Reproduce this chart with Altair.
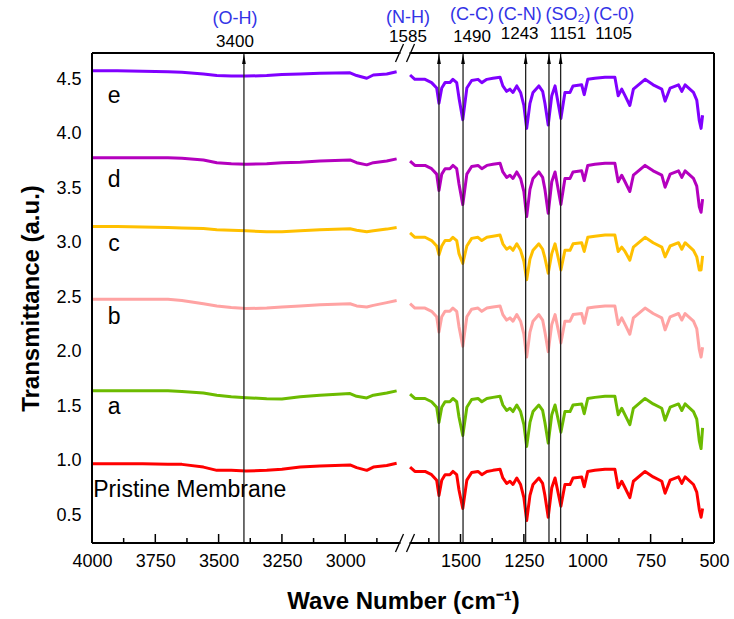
import altair as alt
import pandas as pd

# ---------------- data ----------------
SERIES = ["Pristine Membrane", "a", "b", "c", "d", "e"]
COLORS = ["#FF0000", "#6CBB00", "#FFA3A3", "#FFC000", "#B400BE", "#8000FF"]

LEFT_WN = [4000, 3900, 3800, 3700, 3645, 3560, 3507, 3450, 3392, 3310,
           3250, 3178, 3100, 2981, 2955, 2915, 2889, 2836, 2797]

RIGHT_WN = [1699, 1680, 1640, 1614, 1594, 1585, 1574, 1561, 1542, 1530,
            1515, 1506, 1491, 1475, 1456, 1431, 1416, 1396, 1372, 1344,
            1333, 1318, 1305, 1293, 1278, 1263, 1250, 1239, 1226, 1214,
            1191, 1176, 1167, 1154, 1140, 1127, 1104, 1088, 1068, 1056,
            1022, 1012, 998, 970, 930, 891, 878, 864, 851, 832,
            818, 772, 740, 706, 693, 673, 640, 627, 614, 581,
            568, 558, 551, 545]

P_LEFT = [0.97, 0.97, 0.97, 0.965, 0.965, 0.94, 0.91, 0.91, 0.905, 0.91,
          0.92, 0.94, 0.95, 0.96, 0.935, 0.91, 0.94, 0.955, 0.975]
P_RIGHT = [0.94, 0.90, 0.90, 0.87, 0.82, 0.68, 0.82, 0.87, 0.87, 0.90,
           0.87, 0.73, 0.56, 0.82, 0.89, 0.90, 0.87, 0.90, 0.91, 0.92,
           0.84, 0.79, 0.81, 0.78, 0.84, 0.78, 0.66, 0.45, 0.68, 0.78,
           0.84, 0.79, 0.68, 0.48, 0.75, 0.84, 0.58, 0.78, 0.78, 0.84,
           0.85, 0.76, 0.90, 0.91, 0.92, 0.92, 0.75, 0.81, 0.75, 0.66,
           0.81, 0.90, 0.85, 0.81, 0.70, 0.82, 0.85, 0.79, 0.85, 0.78,
           0.71, 0.55, 0.48, 0.56]

A_LEFT = [1.64, 1.64, 1.64, 1.64, 1.635, 1.62, 1.60, 1.585, 1.577, 1.568,
          1.565, 1.585, 1.60, 1.615, 1.59, 1.575, 1.60, 1.62, 1.64]
A_RIGHT = [1.61, 1.57, 1.57, 1.54, 1.49, 1.35, 1.49, 1.54, 1.54, 1.57,
           1.54, 1.40, 1.23, 1.49, 1.56, 1.57, 1.54, 1.57, 1.58, 1.59,
           1.51, 1.46, 1.48, 1.45, 1.51, 1.45, 1.33, 1.13, 1.35, 1.45,
           1.51, 1.46, 1.35, 1.16, 1.42, 1.51, 1.26, 1.45, 1.45, 1.51,
           1.52, 1.43, 1.57, 1.58, 1.59, 1.59, 1.42, 1.48, 1.42, 1.33,
           1.48, 1.57, 1.52, 1.48, 1.37, 1.49, 1.52, 1.46, 1.52, 1.45,
           1.38, 1.18, 1.11, 1.30]

B_LEFT = [2.48, 2.48, 2.48, 2.48, 2.47, 2.44, 2.42, 2.405, 2.395, 2.40,
          2.41, 2.42, 2.43, 2.44, 2.42, 2.41, 2.425, 2.45, 2.47]
B_RIGHT = [2.44, 2.40, 2.40, 2.37, 2.32, 2.18, 2.32, 2.37, 2.37, 2.40,
           2.37, 2.23, 2.05, 2.32, 2.39, 2.40, 2.37, 2.40, 2.41, 2.42,
           2.34, 2.29, 2.31, 2.28, 2.34, 2.28, 2.16, 1.95, 2.18, 2.28,
           2.34, 2.29, 2.18, 2.00, 2.25, 2.34, 2.08, 2.28, 2.28, 2.34,
           2.35, 2.26, 2.40, 2.41, 2.42, 2.42, 2.25, 2.31, 2.25, 2.16,
           2.31, 2.40, 2.35, 2.31, 2.20, 2.32, 2.35, 2.29, 2.35, 2.28,
           2.21, 2.02, 1.95, 2.04]

C_LEFT = [3.15, 3.15, 3.145, 3.14, 3.135, 3.13, 3.12, 3.115, 3.11, 3.10,
          3.10, 3.11, 3.12, 3.128, 3.115, 3.10, 3.11, 3.125, 3.14]
C_RIGHT = [3.09, 3.05, 3.05, 3.02, 2.97, 2.89, 2.97, 3.02, 3.02, 3.05,
           3.02, 2.90, 2.81, 2.97, 3.04, 3.05, 3.02, 3.05, 3.06, 3.07,
           2.99, 2.94, 2.96, 2.93, 2.99, 2.93, 2.83, 2.66, 2.85, 2.93,
           2.99, 2.94, 2.86, 2.72, 2.90, 2.99, 2.75, 2.93, 2.93, 2.99,
           3.00, 2.92, 3.05, 3.06, 3.07, 3.07, 2.92, 2.96, 2.92, 2.84,
           2.96, 3.05, 3.00, 2.96, 2.87, 2.97, 3.00, 2.94, 3.00, 2.93,
           2.87, 2.75, 2.75, 2.88]

D_LEFT = [3.78, 3.78, 3.78, 3.78, 3.775, 3.76, 3.735, 3.725, 3.72, 3.725,
          3.735, 3.74, 3.75, 3.76, 3.735, 3.715, 3.735, 3.75, 3.77]
D_RIGHT = [3.75, 3.71, 3.71, 3.68, 3.63, 3.48, 3.63, 3.68, 3.68, 3.71,
           3.68, 3.54, 3.35, 3.63, 3.70, 3.71, 3.68, 3.71, 3.72, 3.73,
           3.65, 3.60, 3.62, 3.59, 3.65, 3.59, 3.47, 3.24, 3.49, 3.59,
           3.65, 3.60, 3.49, 3.27, 3.56, 3.65, 3.35, 3.59, 3.59, 3.65,
           3.66, 3.57, 3.71, 3.72, 3.73, 3.73, 3.56, 3.62, 3.56, 3.47,
           3.62, 3.71, 3.66, 3.62, 3.51, 3.63, 3.66, 3.60, 3.66, 3.59,
           3.52, 3.33, 3.28, 3.40]

E_LEFT = [4.58, 4.58, 4.575, 4.57, 4.565, 4.55, 4.535, 4.53, 4.53, 4.535,
          4.545, 4.55, 4.555, 4.56, 4.535, 4.51, 4.54, 4.55, 4.57]
E_RIGHT = [4.54, 4.50, 4.50, 4.47, 4.42, 4.28, 4.42, 4.47, 4.47, 4.50,
           4.47, 4.33, 4.13, 4.42, 4.49, 4.50, 4.47, 4.50, 4.51, 4.52,
           4.44, 4.39, 4.41, 4.38, 4.44, 4.38, 4.26, 4.05, 4.28, 4.38,
           4.44, 4.39, 4.28, 4.08, 4.35, 4.44, 4.14, 4.38, 4.38, 4.44,
           4.45, 4.36, 4.50, 4.51, 4.52, 4.52, 4.35, 4.41, 4.35, 4.26,
           4.41, 4.50, 4.45, 4.41, 4.30, 4.42, 4.45, 4.39, 4.45, 4.38,
           4.31, 4.12, 4.05, 4.17]

LEFTS = [P_LEFT, A_LEFT, B_LEFT, C_LEFT, D_LEFT, E_LEFT]
RIGHTS = [P_RIGHT, A_RIGHT, B_RIGHT, C_RIGHT, D_RIGHT, E_RIGHT]

# series labels drawn inside the plot
LETTERS = ["e", "d", "c", "b", "a"]
LETTER_Y = [4.28, 3.508, 2.926, 2.253, 1.424]
LETTER_WN = 3913
PRISTINE_Y = 0.667
PRISTINE_WN = 3995

# marked absorption bands
PEAK_WN = [3400, 1585, 1490, 1243, 1151, 1105]
PEAK_GROUP = ["(O-H)", "(N-H)", "(C-C)", "(C-N)", "(SO\u2082)", "(C-0)"]
PEAK_TEXT = ["3400", "1585", "1490", "1243", "1151", "1105"]

MAJOR_TICKS = [4000, 3750, 3500, 3250, 3000, 1500, 1250, 1000, 750, 500]
MINOR_TICKS = [3875, 3625, 3375, 3125, 2875, 1625, 1375, 1125, 875, 625]
Y_TICKS = [0.5, 1.0, 1.5, 2.0, 2.5, 3.0, 3.5, 4.0, 4.5]

# axis break (wavenumbers removed from the axis)
BREAK_HI = 2762
BREAK_LO = 1717
BREAK_MID = 2200

# ---------------- build tables ----------------
rows = []
for name, left, right in zip(SERIES, LEFTS, RIGHTS):
    for w, v in zip(LEFT_WN, left):
        rows.append({"series": name, "seg": "L", "wn": w, "T": v})
    for w, v in zip(RIGHT_WN, right):
        rows.append({"series": name, "seg": "R", "wn": w, "T": v})
df = pd.DataFrame(rows)

W, H = 622, 490
FONT = "Liberation Sans"

x_scale = alt.Scale(domain=[4000, BREAK_HI, BREAK_LO, 500],
                    range=[0, 313.5, 313.5, W], nice=False, zero=False)
y_scale = alt.Scale(domain=[0.243, 4.742], nice=False, zero=False)

X_AXIS = alt.Axis(values=MAJOR_TICKS, format="d", title="Wave Number (cm\u207b\u00b9)",
                  labelFlush=False, labelPadding=9, titlePadding=19,
                  labelOverlap=False)
Y_AXIS = alt.Axis(values=Y_TICKS, format=".1f", title="Transmittance (a.u.)",
                  labelPadding=11, titlePadding=12)


def xenc():
    return alt.X("wn:Q", scale=x_scale, axis=X_AXIS)


def yenc():
    return alt.Y("T:Q", scale=y_scale, axis=Y_AXIS)


lines = alt.Chart(df).mark_line(strokeWidth=3, strokeJoin="round").encode(
    x=xenc(), y=yenc(),
    color=alt.Color("series:N", scale=alt.Scale(domain=SERIES, range=COLORS), legend=None),
    detail="seg:N",
)

peaks_df = pd.DataFrame({"wn": PEAK_WN})
peak_rules = alt.Chart(peaks_df).mark_rule(color="#222222", strokeWidth=1.3).encode(
    x=xenc(), y=alt.value(0), y2=alt.value(H),
)
arrows = alt.Chart(peaks_df).mark_point(
    shape="M0,-1L0.38,1L-0.38,1Z", filled=True, size=100, color="black", opacity=1
).encode(x=xenc(), y=alt.value(6))

major_df = pd.DataFrame({"wn": MAJOR_TICKS})
minor_df = pd.DataFrame({"wn": MINOR_TICKS})
major_ticks = alt.Chart(major_df).mark_rule(color="black", strokeWidth=1.5).encode(
    x=xenc(), y=alt.value(H - 9), y2=alt.value(H))
minor_ticks = alt.Chart(minor_df).mark_rule(color="black", strokeWidth=1.5).encode(
    x=xenc(), y=alt.value(H - 5), y2=alt.value(H))

one = pd.DataFrame({"k": [0]})
frame = [
    alt.Chart(one).mark_rule(color="black", strokeWidth=2).encode(
        x=alt.value(0), x2=alt.value(W), y=alt.value(0)),
    alt.Chart(one).mark_rule(color="black", strokeWidth=2).encode(
        x=alt.value(0), x2=alt.value(W), y=alt.value(H)),
    alt.Chart(one).mark_rule(color="black", strokeWidth=2).encode(
        x=alt.value(0), y=alt.value(0), y2=alt.value(H)),
    alt.Chart(one).mark_rule(color="black", strokeWidth=2).encode(
        x=alt.value(W), y=alt.value(0), y2=alt.value(H)),
]

# axis-break marks
break_layers = []
for yc in (0, H):
    break_layers.append(
        alt.Chart(one).mark_rect(color="white", xOffset=-5, x2Offset=4).encode(
            x=alt.datum(BREAK_MID, scale=x_scale, axis=X_AXIS), x2=alt.datum(BREAK_MID),
            y=alt.value(yc - 3), y2=alt.value(yc + 3)))
    for x0, x1 in ((-10, -2), (1, 9)):
        break_layers.append(
            alt.Chart(one).mark_rule(color="black", strokeWidth=1.3,
                                     xOffset=x0, x2Offset=x1).encode(
                x=alt.datum(BREAK_MID, scale=x_scale, axis=X_AXIS), x2=alt.datum(BREAK_MID),
                y=alt.value(yc + 9), y2=alt.value(yc - 9)))

letters_df = pd.DataFrame({"label": LETTERS, "T": LETTER_Y, "wn": [LETTER_WN] * len(LETTERS)})
letters = alt.Chart(letters_df).mark_text(
    font=FONT, fontSize=23, color="black", align="center", baseline="alphabetic"
).encode(x=xenc(), y=yenc(), text="label:N")

pristine_df = pd.DataFrame({"label": [SERIES[0]], "T": [PRISTINE_Y], "wn": [PRISTINE_WN]})
pristine = alt.Chart(pristine_df).mark_text(
    font=FONT, fontSize=23, color="black", align="left", baseline="alphabetic"
).encode(x=xenc(), y=yenc(), text="label:N")

# band labels above the frame
GROUP_DX = [-9, -31, 9, -6, 19, 53]
GROUP_Y = [-34, -35, -38, -38, -38, -38]
NUM_Y = [-11, -16, -16, -19.5, -19.5, -19.5]
top_labels = []
for i, w in enumerate(PEAK_WN):
    d = pd.DataFrame({"wn": [w], "g": [PEAK_GROUP[i]], "n": [PEAK_TEXT[i]]})
    top_labels.append(alt.Chart(d).mark_text(
        font=FONT, fontSize=18, color="#3333E6", align="center", baseline="middle",
        dx=GROUP_DX[i]).encode(x=xenc(), y=alt.value(GROUP_Y[i]), text="g:N"))
    top_labels.append(alt.Chart(d).mark_text(
        font=FONT, fontSize=17, color="black", align="center", baseline="middle",
        dx=GROUP_DX[i]).encode(x=xenc(), y=alt.value(NUM_Y[i]), text="n:N"))

chart = alt.layer(
    lines, peak_rules, arrows, major_ticks, minor_ticks, *frame, *break_layers,
    letters, pristine, *top_labels
).properties(
    width=W, height=H,
    autosize=alt.AutoSizeParams(type="none"),
    padding={"left": 92, "top": 53, "right": 20, "bottom": 76},
).configure_view(stroke=None).configure_axis(
    grid=False, domain=False, ticks=False,
    labelFont=FONT, labelFontSize=18, labelColor="black",
    titleFont=FONT, titleFontSize=24, titleFontWeight="bold", titleColor="black",
)

chart.save("out.html", embed_options={"renderer": "svg", "actions": False})
